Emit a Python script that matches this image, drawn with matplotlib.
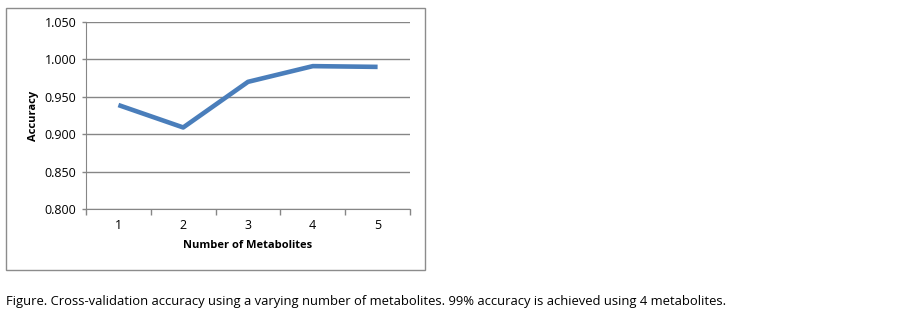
import matplotlib.pyplot as plt
from matplotlib.patches import Rectangle
import numpy as np

# data
n_metabolites = [1, 2, 3, 4, 5]
accuracy = [0.939, 0.909, 0.970, 0.991, 0.990]
y_ticks = [0.800, 0.850, 0.900, 0.950, 1.000, 1.050]

caption = ("Figure. Cross-validation accuracy using a varying number of metabolites. "
           "99% accuracy is achieved using 4 metabolites.")

W, H = 918, 327
fig = plt.figure(figsize=(W / 100, H / 100), dpi=100)
plt.rcParams['font.family'] = ['Open Sans', 'DejaVu Sans']

# outer chart frame
fig.patches.append(Rectangle((6 / W, 1 - 270 / H), 419 / W, 262 / H,
                             transform=fig.transFigure, fill=False,
                             edgecolor='#8c8c8c', linewidth=1))

ax = fig.add_axes([86 / W, 1 - 209 / H, 324 / W, 187 / H])
x = np.arange(len(n_metabolites))
ax.plot(x, accuracy, color='#4a7ebb', linewidth=3.3, solid_capstyle='butt', zorder=3)

ax.set_xlim(-0.5, len(n_metabolites) - 0.5)
ax.set_ylim(0.800, 1.050)
ax.set_yticks(y_ticks)
ax.set_yticklabels([f"{v:.3f}" for v in y_ticks], fontsize=9)
ax.set_xticks(x)
ax.set_xticklabels([str(n) for n in n_metabolites], fontsize=9)
ax.tick_params(axis='x', length=0, pad=7)
ax.set_xticks(np.arange(len(n_metabolites) + 1) - 0.5, minor=True)
ax.tick_params(axis='x', which='minor', length=4, color='#868686', width=1)
ax.tick_params(axis='y', length=3, color='#868686', width=1, pad=4)

ax.grid(axis='y', color='#868686', linewidth=1)
for side in ['top', 'right']:
    ax.spines[side].set_visible(False)
for side in ['left', 'bottom']:
    ax.spines[side].set_color('#868686')

ax.set_ylabel('Accuracy', fontsize=8, fontweight='bold', labelpad=4)
ax.set_xlabel('Number of Metabolites', fontsize=8, fontweight='bold', labelpad=6)

fig.text(6 / W, 1 - 302 / H, caption, fontsize=9.35, va='center', ha='left')

plt.savefig('out.png', dpi=100)
plt.close()
